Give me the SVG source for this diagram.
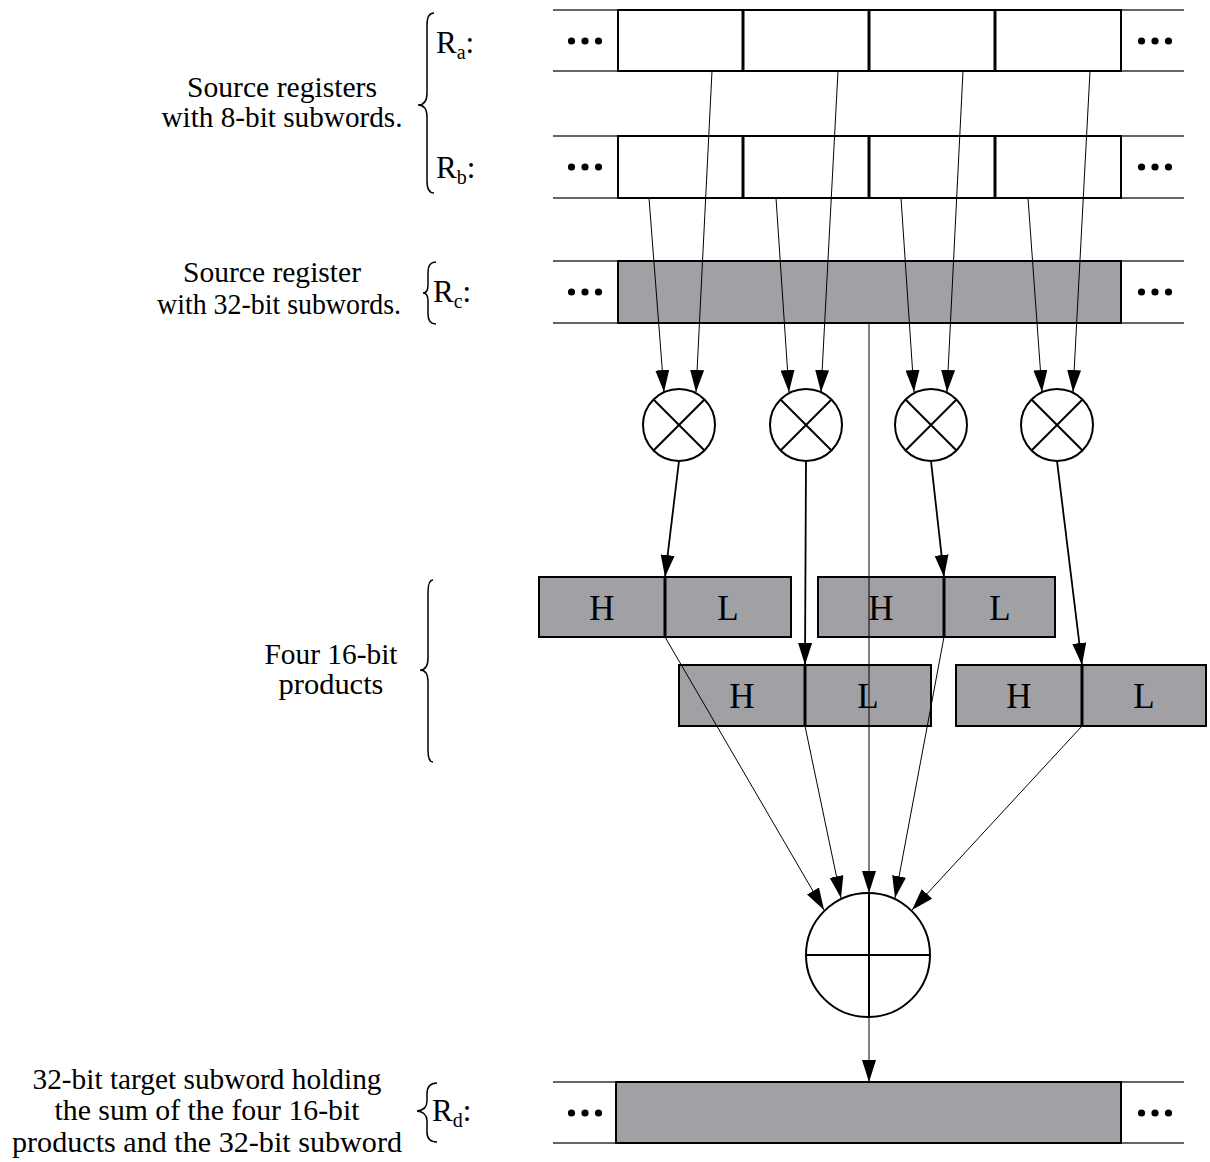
<svg xmlns="http://www.w3.org/2000/svg" width="1210" height="1162" viewBox="0 0 1210 1162">
<style>
  text { font-family: "Liberation Serif", "Times New Roman", serif; fill: #000; }
  .lbl { font-size: 30px; text-anchor: middle; }
  .reg { font-size: 31px; }
  .sub { font-size: 20px; }
  .hl { font-size: 35px; text-anchor: middle; }
  .ext { stroke: #333; stroke-width: 1.5; fill: none; }
  .cell { fill: #fff; stroke: #000; stroke-width: 2; }
  .grey { fill: #a1a0a5; stroke: #000; stroke-width: 2; }
  .div { stroke: #000; stroke-width: 3; }
  .brace { fill: none; stroke: #000; stroke-width: 1.5; }
  .op { fill: #fff; stroke: #000; stroke-width: 2; }
  .opl { stroke: #000; stroke-width: 2; }
  .thin { stroke: #000; stroke-width: 1; fill: none; }
  .thick { stroke: #000; stroke-width: 1.8; fill: none; }
  .dot { fill: #000; }
</style>
<defs>
  <marker id="ah" viewBox="0 0 22 14" refX="22" refY="7" markerWidth="22" markerHeight="14" markerUnits="userSpaceOnUse" orient="auto">
    <path d="M0,0 L22,7 L0,14 z" fill="#000"/>
  </marker>
  <g id="dots3">
    <circle class="dot" cx="0" cy="0" r="3.6"/>
    <circle class="dot" cx="13.5" cy="0" r="3.6"/>
    <circle class="dot" cx="27" cy="0" r="3.6"/>
  </g>
</defs>

<!-- Labels -->
<g id="label-source8">
  <text class="lbl" x="282" y="97" textLength="190" lengthAdjust="spacingAndGlyphs">Source registers</text>
  <text class="lbl" x="282" y="127" textLength="241" lengthAdjust="spacingAndGlyphs">with 8-bit subwords.</text>
  <path class="brace" d="M434,13 Q427,13 427,25 L427,93 Q427,105 418,105 Q427,105 427,117 L427,181 Q427,193 434,193"/>
</g>
<g id="label-source32">
  <text class="lbl" x="272" y="282" textLength="178" lengthAdjust="spacingAndGlyphs">Source register</text>
  <text class="lbl" x="279" y="314" textLength="244" lengthAdjust="spacingAndGlyphs">with 32-bit subwords.</text>
  <path class="brace" d="M436,262 Q428,262 428,272 L428,285 Q428,293 423,293 Q428,293 428,301 L428,314 Q428,324 436,324"/>
</g>
<g id="label-products">
  <text class="lbl" x="331" y="664" textLength="133" lengthAdjust="spacingAndGlyphs">Four 16-bit</text>
  <text class="lbl" x="331" y="694" textLength="105" lengthAdjust="spacingAndGlyphs">products</text>
  <path class="brace" d="M433,580 Q428,580 428,592 L428,658 Q428,670 420,670 Q428,670 428,682 L428,750 Q428,762 433,762"/>
</g>
<g id="label-target">
  <text class="lbl" x="207" y="1089" textLength="349" lengthAdjust="spacingAndGlyphs">32-bit target subword holding</text>
  <text class="lbl" x="207" y="1120" textLength="305" lengthAdjust="spacingAndGlyphs">the sum of the four 16-bit</text>
  <text class="lbl" x="207" y="1152" textLength="390" lengthAdjust="spacingAndGlyphs">products and the 32-bit subword</text>
  <path class="brace" d="M437,1083 Q427,1083 427,1094 L427,1101 Q427,1110 417,1111 Q427,1112 427,1121 L427,1132 Q427,1142 437,1142"/>
</g>

<!-- Register Ra -->
<g id="reg-ra">
  <text class="reg" x="436" y="53">R<tspan class="sub" dy="6">a</tspan><tspan dy="-6">:</tspan></text>
  <path class="ext" d="M553,10 H618 M553,71 H618 M1121,10 H1184 M1121,71 H1184"/>
  <rect class="cell" x="618" y="10" width="503" height="61"/>
  <path class="div" d="M743,10 V71 M869,10 V71 M995,10 V71"/>
  <use href="#dots3" x="571.5" y="41"/>
  <use href="#dots3" x="1141.5" y="41"/>
</g>
<!-- Register Rb -->
<g id="reg-rb">
  <text class="reg" x="436" y="178">R<tspan class="sub" dy="6">b</tspan><tspan dy="-6">:</tspan></text>
  <path class="ext" d="M553,136 H618 M553,198 H618 M1121,136 H1184 M1121,198 H1184"/>
  <rect class="cell" x="618" y="136" width="503" height="62"/>
  <path class="div" d="M743,136 V198 M869,136 V198 M995,136 V198"/>
  <use href="#dots3" x="571.5" y="167"/>
  <use href="#dots3" x="1141.5" y="167"/>
</g>
<!-- Register Rc -->
<g id="reg-rc">
  <text class="reg" x="433" y="302">R<tspan class="sub" dy="6">c</tspan><tspan dy="-6">:</tspan></text>
  <path class="ext" d="M553,261 H618 M553,323 H618 M1121,261 H1184 M1121,323 H1184"/>
  <rect class="grey" x="618" y="261" width="503" height="62"/>
  <use href="#dots3" x="571.5" y="292"/>
  <use href="#dots3" x="1141.5" y="292"/>
</g>

<!-- Multipliers -->
<g id="mul1">
  <circle class="op" cx="679" cy="425" r="36"/>
  <path class="opl" d="M653.5,399.5 L704.5,450.5 M704.5,399.5 L653.5,450.5"/>
</g>
<g id="mul2">
  <circle class="op" cx="806" cy="425" r="36"/>
  <path class="opl" d="M780.5,399.5 L831.5,450.5 M831.5,399.5 L780.5,450.5"/>
</g>
<g id="mul3">
  <circle class="op" cx="931" cy="425" r="36"/>
  <path class="opl" d="M905.5,399.5 L956.5,450.5 M956.5,399.5 L905.5,450.5"/>
</g>
<g id="mul4">
  <circle class="op" cx="1057" cy="425" r="36"/>
  <path class="opl" d="M1031.5,399.5 L1082.5,450.5 M1082.5,399.5 L1031.5,450.5"/>
</g>

<!-- Products -->
<g id="prod1">
  <rect class="grey" x="539" y="577" width="252" height="60"/>
  <path class="div" d="M665,577 V637"/>
  <text class="hl" x="602" y="620">H</text>
  <text class="hl" x="728" y="620">L</text>
</g>
<g id="prod2">
  <rect class="grey" x="818" y="577" width="237" height="60"/>
  <path class="div" d="M944,577 V637"/>
  <text class="hl" x="881" y="620">H</text>
  <text class="hl" x="1000" y="620">L</text>
</g>
<g id="prod3">
  <rect class="grey" x="679" y="665" width="252" height="61"/>
  <path class="div" d="M805,665 V726"/>
  <text class="hl" x="742" y="708">H</text>
  <text class="hl" x="868" y="708">L</text>
</g>
<g id="prod4">
  <rect class="grey" x="956" y="665" width="250" height="61"/>
  <path class="div" d="M1082,665 V726"/>
  <text class="hl" x="1019" y="708">H</text>
  <text class="hl" x="1144" y="708">L</text>
</g>

<!-- Adder -->
<g id="adder">
  <circle class="op" cx="868" cy="955" r="62"/>
  <path class="opl" d="M806,955 H930 M869,893 V1017"/>
</g>

<!-- Register Rd -->
<g id="reg-rd">
  <text class="reg" x="432" y="1121">R<tspan class="sub" dy="6">d</tspan><tspan dy="-6">:</tspan></text>
  <path class="ext" d="M553,1082 H616 M553,1143 H616 M1121,1082 H1184 M1121,1143 H1184"/>
  <rect class="grey" x="616" y="1082" width="505" height="61"/>
  <use href="#dots3" x="571.5" y="1113"/>
  <use href="#dots3" x="1141.5" y="1113"/>
</g>

<!-- Connectors -->
<g id="connectors">
  <line class="thin" x1="712" y1="71" x2="696" y2="392" marker-end="url(#ah)"/>
  <line class="thin" x1="838" y1="71" x2="821" y2="392" marker-end="url(#ah)"/>
  <line class="thin" x1="963" y1="71" x2="947" y2="392" marker-end="url(#ah)"/>
  <line class="thin" x1="1090" y1="71" x2="1073" y2="392" marker-end="url(#ah)"/>
  <line class="thin" x1="649" y1="198" x2="664" y2="392" marker-end="url(#ah)"/>
  <line class="thin" x1="776" y1="198" x2="789" y2="392" marker-end="url(#ah)"/>
  <line class="thin" x1="901" y1="198" x2="914" y2="392" marker-end="url(#ah)"/>
  <line class="thin" x1="1028" y1="198" x2="1042" y2="392" marker-end="url(#ah)"/>

  <line class="thick" x1="679" y1="461" x2="665" y2="577" marker-end="url(#ah)"/>
  <line class="thick" x1="806" y1="461" x2="805" y2="665" marker-end="url(#ah)"/>
  <line class="thick" x1="931" y1="461" x2="944" y2="577" marker-end="url(#ah)"/>
  <line class="thick" x1="1057" y1="461" x2="1082" y2="665" marker-end="url(#ah)"/>

  <line class="thin" x1="665" y1="637" x2="824" y2="910" marker-end="url(#ah)"/>
  <line class="thin" x1="805" y1="726" x2="841" y2="898" marker-end="url(#ah)"/>
  <line class="thin" x1="944" y1="637" x2="895" y2="898" marker-end="url(#ah)"/>
  <line class="thin" x1="1082" y1="726" x2="912" y2="910" marker-end="url(#ah)"/>

  <line class="thin" x1="869" y1="323" x2="869" y2="893" marker-end="url(#ah)"/>
  <line class="thin" x1="869" y1="1017" x2="869" y2="1082" marker-end="url(#ah)"/>
</g>
</svg>
